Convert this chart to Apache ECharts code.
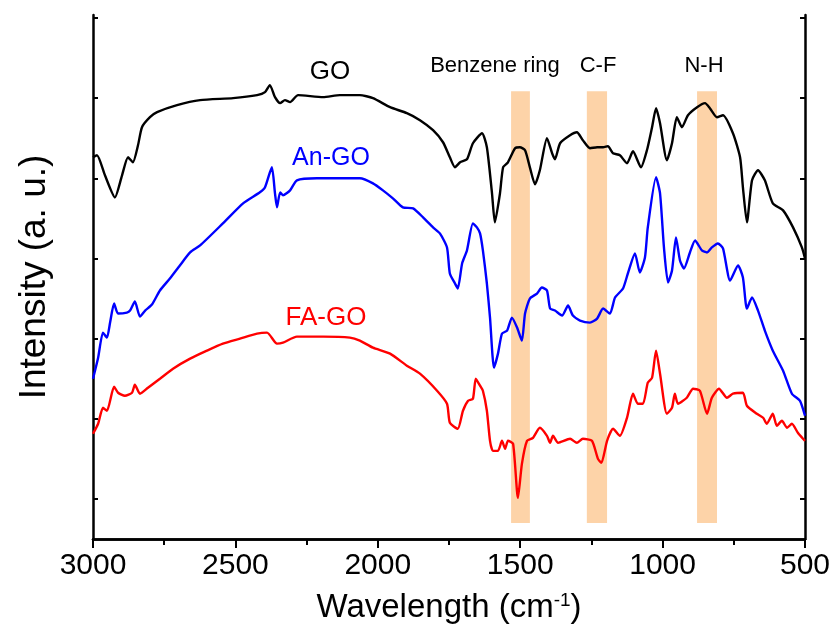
<!DOCTYPE html>
<html>
<head>
<meta charset="utf-8">
<script src="https://cdn.jsdelivr.net/npm/echarts@6/dist/echarts.min.js"></script>
<style>
  html, body { margin: 0; padding: 0; background: #fff; }
  #chart { width: 834px; height: 642px; }
</style>
</head>
<body>
<div id="chart"></div>
<script>
// wavenumber (cm-1) / intensity (a.u.) pairs
var goData = [
  [3000, 381], [2986, 383], [2958, 363], [2923, 341], [2898, 363], [2877, 381], [2860, 376],
  [2842, 393], [2828, 411], [2800, 421], [2775, 426], [2705, 433], [2624, 438], [2508, 440],
  [2424, 443], [2396, 446], [2379, 453], [2361, 441], [2343, 435], [2326, 438], [2308, 436],
  [2280, 443], [2192, 441], [2133, 443], [2063, 443], [2017, 440], [1957, 431], [1898, 425],
  [1852, 418], [1806, 408], [1771, 396], [1747, 381], [1729, 371], [1711, 376], [1687, 379],
  [1666, 395], [1634, 405], [1617, 391], [1599, 345], [1589, 316], [1571, 345], [1560, 371],
  [1543, 376], [1518, 390], [1501, 391], [1483, 388], [1466, 371], [1448, 354], [1431, 368],
  [1406, 400], [1388, 385], [1378, 379], [1360, 395], [1325, 403], [1301, 406], [1280, 398],
  [1255, 390], [1230, 391], [1209, 391], [1192, 392], [1174, 385], [1150, 383], [1125, 375],
  [1104, 387], [1076, 371], [1055, 388], [1037, 411], [1023, 430], [1009, 415], [985, 378],
  [967, 395], [950, 421], [932, 411], [911, 423], [879, 431], [851, 435], [834, 430],
  [809, 421], [788, 423], [753, 405], [728, 381], [718, 351], [704, 316], [686, 358],
  [665, 368], [641, 358], [613, 335], [577, 328], [542, 311], [511, 291], [500, 280]
];
var anGoData = [
  [3000, 160], [2982, 181], [2965, 206], [2951, 201], [2940, 216], [2926, 235], [2912, 225],
  [2881, 226], [2870, 228], [2853, 237], [2835, 222], [2817, 228], [2793, 234], [2765, 248],
  [2730, 260], [2695, 273], [2659, 286], [2624, 293], [2544, 315], [2473, 335], [2414, 346],
  [2396, 351], [2372, 371], [2361, 345], [2354, 331], [2343, 346], [2333, 343], [2308, 348],
  [2284, 358], [2214, 360], [2098, 360], [2063, 360], [2017, 355], [1982, 348], [1947, 340],
  [1912, 331], [1876, 330], [1841, 321], [1806, 311], [1782, 305], [1757, 291], [1747, 265],
  [1729, 255], [1719, 250], [1704, 275], [1687, 288], [1666, 315], [1652, 311], [1641, 305],
  [1631, 288], [1617, 255], [1606, 221], [1592, 171], [1578, 185], [1564, 205], [1546, 208],
  [1529, 221], [1511, 211], [1494, 198], [1483, 225], [1466, 240], [1441, 245], [1424, 251],
  [1406, 248], [1395, 230], [1378, 228], [1353, 223], [1332, 233], [1315, 223], [1290, 218],
  [1255, 216], [1230, 220], [1209, 230], [1185, 225], [1167, 241], [1139, 250], [1122, 265],
  [1097, 285], [1080, 266], [1062, 281], [1052, 311], [1023, 361], [1009, 345], [995, 290],
  [981, 256], [967, 268], [953, 301], [939, 278], [925, 270], [904, 286], [886, 298],
  [862, 288], [844, 286], [827, 291], [806, 295], [788, 290], [763, 258], [735, 273],
  [718, 261], [704, 230], [686, 241], [665, 228], [641, 208], [613, 188], [577, 168],
  [546, 145], [518, 138], [500, 123]
];
var faGoData = [
  [3000, 105], [2982, 115], [2965, 131], [2951, 128], [2926, 152], [2912, 146], [2888, 143],
  [2863, 146], [2853, 154], [2835, 145], [2807, 151], [2765, 160], [2719, 170], [2659, 180],
  [2600, 188], [2544, 195], [2484, 200], [2424, 205], [2389, 206], [2354, 195], [2333, 196],
  [2284, 202], [2192, 202], [2098, 201], [2063, 198], [2017, 191], [1957, 185], [1898, 173],
  [1852, 165], [1792, 148], [1757, 135], [1747, 116], [1719, 110], [1701, 128], [1683, 138],
  [1666, 140], [1656, 160], [1641, 153], [1631, 148], [1617, 128], [1606, 98], [1596, 88],
  [1578, 88], [1564, 98], [1553, 90], [1543, 98], [1525, 95], [1508, 41], [1494, 75],
  [1476, 98], [1455, 101], [1431, 111], [1406, 103], [1395, 96], [1385, 103], [1367, 96],
  [1325, 100], [1301, 96], [1280, 100], [1248, 98], [1227, 80], [1215, 76], [1195, 98],
  [1174, 110], [1150, 103], [1125, 121], [1104, 145], [1087, 135], [1069, 135], [1052, 156],
  [1037, 161], [1023, 188], [1009, 165], [985, 125], [967, 131], [957, 145], [946, 135],
  [915, 141], [893, 150], [869, 148], [844, 125], [827, 141], [802, 150], [774, 141],
  [753, 145], [718, 146], [704, 133], [669, 125], [647, 121], [634, 115], [613, 125],
  [599, 113], [581, 118], [563, 111], [546, 115], [525, 106], [507, 100], [500, 98]
];
// highlighted absorption bands [from, to] in cm-1
var bandRanges = [[1532, 1466], [1266, 1195], [879, 809]];
var bandNames = ['Benzene ring', 'C-F', 'N-H'];
var seriesNames = ['GO', 'An-GO', 'FA-GO'];
var seriesColors = ['#000000', '#0000ff', '#ff0000'];
var yTicks = [40, 120, 200, 280, 360, 440, 520];

var chart = echarts.init(document.getElementById('chart'));
var font = 'Liberation Sans, Arial, sans-serif';

var bandAreas = bandRanges.map(function (b) {
  return [{ xAxis: b[0], yAxis: 16 }, { xAxis: b[1], yAxis: 447 }];
});

var lines = [goData, anGoData, faGoData].map(function (d, i) {
  return {
    name: seriesNames[i],
    type: 'line',
    data: d,
    symbol: 'none',
    smooth: 0.2,
    lineStyle: { color: seriesColors[i], width: 2.4 },
    z: 5
  };
});
lines[0].markArea = {
  silent: true,
  itemStyle: { color: '#fdd3a8' },
  data: bandAreas,
  z: 1
};

// little helper for the text labels inside the plot
function label(text, x, y, size, color) {
  return {
    type: 'text', x: x, y: y, z: 10,
    style: { text: text, font: size + 'px ' + font, fill: color, textAlign: 'center', textVerticalAlign: 'middle' }
  };
}

var option = {
  animation: false,
  backgroundColor: '#fff',
  grid: { left: 93, right: 29, top: 15, bottom: 103 },
  xAxis: [{
    type: 'value',
    min: 500, max: 3000, interval: 500,
    inverse: true,
    name: 'Wavelength (cm{sup|-1})',
    nameLocation: 'middle',
    nameGap: 52,
    nameTextStyle: {
      fontFamily: font, fontSize: 33, color: '#000',
      rich: { sup: { fontFamily: font, fontSize: 19, color: '#000', padding: [0, 0, 15, 0] } }
    },
    axisLine: { lineStyle: { color: '#000', width: 2.5 } },
    axisTick: { show: true, length: 9, lineStyle: { color: '#000', width: 2 } },
    minorTick: { show: true, splitNumber: 2, length: 6, lineStyle: { color: '#000', width: 2 } },
    axisLabel: {
      fontFamily: font, fontSize: 30, color: '#000', margin: 12,
      formatter: function (v) { return String(v); }
    },
    splitLine: { show: false }
  }, {
    type: 'value',
    position: 'top',
    min: 500, max: 3000,
    inverse: true,
    axisLine: { lineStyle: { color: '#000', width: 2.5 } },
    axisTick: { show: false },
    axisLabel: { show: false },
    splitLine: { show: false }
  }],
  yAxis: [{
    type: 'value',
    min: 0, max: 523,
    name: 'Intensity (a. u.)',
    nameLocation: 'middle',
    nameRotate: 90,
    nameGap: 40,
    nameTextStyle: { fontFamily: font, fontSize: 37, color: '#000' },
    axisLine: { show: true, lineStyle: { color: '#000', width: 2.5 } },
    axisTick: { show: true, inside: true, length: 5, lineStyle: { color: '#000', width: 2 }, customValues: yTicks },
    axisLabel: { show: false },
    splitLine: { show: false }
  }, {
    type: 'value',
    position: 'right',
    min: 0, max: 523,
    axisLine: { show: true, lineStyle: { color: '#000', width: 2.5 } },
    axisTick: { show: true, inside: true, length: 5, lineStyle: { color: '#000', width: 2 }, customValues: yTicks },
    axisLabel: { show: false },
    splitLine: { show: false }
  }],
  series: lines,
  graphic: [
    label(seriesNames[0], 330, 72, 26, seriesColors[0]),
    label(seriesNames[1], 331, 158, 25, seriesColors[1]),
    label(seriesNames[2], 326, 318, 26, seriesColors[2]),
    label(bandNames[0], 495, 66, 22, '#000'),
    label(bandNames[1], 598, 66, 22, '#000'),
    label(bandNames[2], 704, 66, 22, '#000')
  ]
};

chart.setOption(option);
</script>
</body>
</html>
